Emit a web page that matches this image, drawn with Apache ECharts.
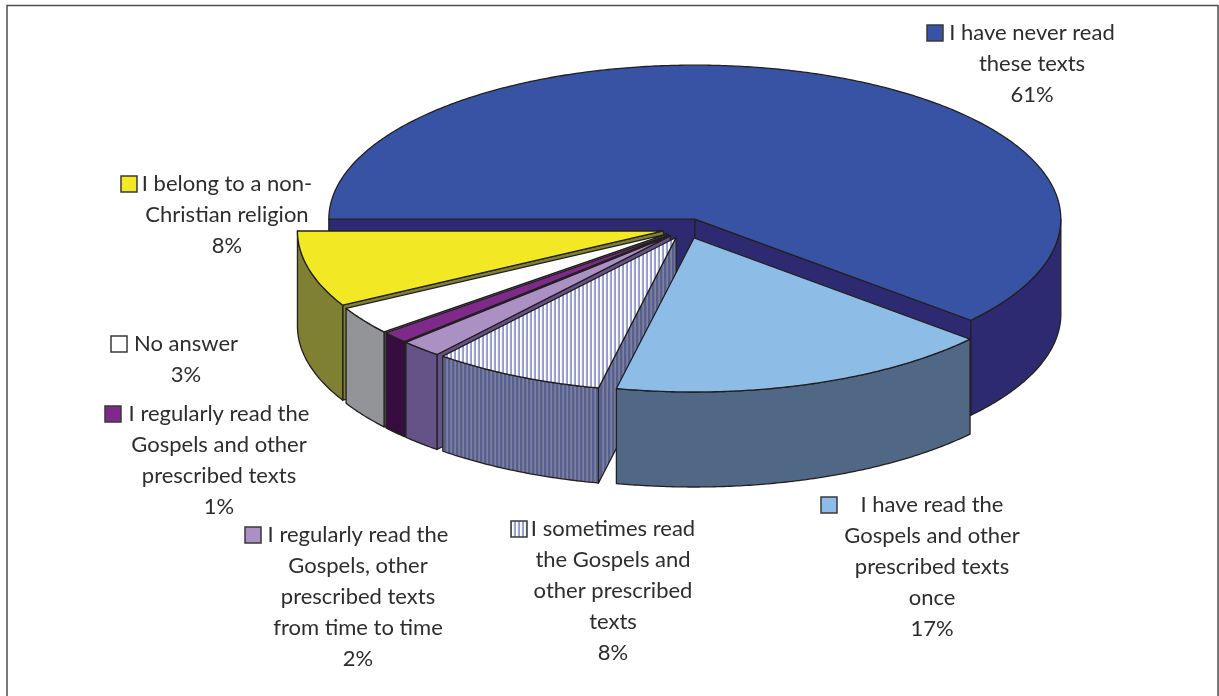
<!DOCTYPE html>
<html><head><meta charset="utf-8">
<style>html,body{margin:0;padding:0;background:#fff}#c{width:1219px;height:696px}</style>
<script src="https://cdn.jsdelivr.net/npm/echarts@6/dist/echarts.min.js"></script>
</head><body><div id="c"></div>
<script>
// Data, clockwise from the left edge of the large slice
const categories = [
  'I have never read these texts',
  'I have read the Gospels and other prescribed texts once',
  'I sometimes read the Gospels and other prescribed texts',
  'I regularly read the Gospels, other prescribed texts from time to time',
  'I regularly read the Gospels and other prescribed texts',
  'No answer',
  'I belong to a non-Christian religion'
];
const shares = [61.4, 17.0, 7.6, 1.85, 1.2, 2.95, 8.0];
const labelLines = [
  ['I have never read', 'these texts'],
  ['I have read the', 'Gospels and other', 'prescribed texts', 'once'],
  ['I sometimes read', 'the Gospels and', 'other prescribed', 'texts'],
  ['I regularly read the', 'Gospels, other', 'prescribed texts', 'from time to time'],
  ['I regularly read the', 'Gospels and other', 'prescribed texts'],
  ['No answer'],
  ['I belong to a non-', 'Christian religion']
];

// Styling and layout
const topColors  = ['#3853a4', '#8dbde6', 'stripeTop', '#ab90c4', '#7f2a8b', '#ffffff', '#f2e924'];
const wallColors = ['#2e2a72', '#506885', 'stripeWall', '#655287', '#370d3f', '#929497', '#808033'];
const paintOrder = [0, 6, 5, 4, 3, 2, 1];
const labelAnchors = [[1032, 33], [932, 505], [613, 529], [358, 535], [219, 414], [186, 344], [227, 184]];
const keyAnchors = [[927, 33], [821, 505], [511, 529], [245, 535], [105, 414], [111, 344], [121, 184]];
const CX = 686.5, CY = 228.5, RX = 366, RY = 154, DEPTH = 95, EXPLODE = 0.065, START_DEG = 180;
const LINE = '#231f20', TEXT = '#2e2c2d', FONT = 'Lato, "Open Sans", sans-serif', FS = 22, LH = 31;

function stripes(cols) {
  const c = document.createElement('canvas');
  c.width = cols.length; c.height = 2;
  const g = c.getContext('2d');
  cols.forEach((col, i) => { g.fillStyle = col; g.fillRect(i, 0, 1, 2); });
  return { image: c, repeat: 'repeat' };
}
const patterns = {
  stripeTop: stripes(['#ffffff', '#f2f3fa', '#a3a7d6', '#9599cc']),
  stripeWall: stripes(['#555f90', '#55608f', '#73769c', '#7f8199'])
};
const paint = c => patterns[c] || c;

const total = shares.reduce((a, b) => a + b, 0);
const spans = [];
shares.reduce((acc, v) => { const d = v / total * 360; spans.push([acc, acc + d]); return acc + d; }, START_DEG);

function rim(ax, ay, deg) {
  const r = deg * Math.PI / 180;
  return [ax + RX * Math.cos(r), ay + RY * Math.sin(r)];
}
function arc(ax, ay, a0, a1, dy) {
  const pts = [], n = Math.max(2, Math.ceil(Math.abs(a1 - a0) * 2));
  for (let i = 0; i <= n; i++) {
    const p = rim(ax, ay, a0 + (a1 - a0) * i / n);
    pts.push([p[0], p[1] + (dy || 0)]);
  }
  return pts;
}
function slice(params, api) {
  const i = params.dataIndex, a0 = spans[i][0], a1 = spans[i][1], mid = (a0 + a1) / 2 * Math.PI / 180;
  const ax = CX + EXPLODE * RX * Math.cos(mid), ay = CY + EXPLODE * RY * Math.sin(mid);
  const z2 = paintOrder.indexOf(i) * 10;
  const base = { lineWidth: 1.3, stroke: LINE, lineJoin: 'round' };
  const kids = [];
  const poly = (pts, fill, z) => kids.push({ type: 'polygon', z2: z, silent: true, shape: { points: pts }, style: Object.assign({ fill: paint(fill) }, base) });
  const face = deg => {
    const p = rim(ax, ay, deg);
    poly([[ax, ay], p, [p[0], p[1] + DEPTH], [ax, ay + DEPTH]], wallColors[i], z2 + 1);
  };
  if (Math.cos(a0 * Math.PI / 180) < 0.001) face(a0);
  if (Math.cos(a1 * Math.PI / 180) > 0.001) face(a1);
  [[0, 180], [360, 540]].forEach(w => {
    const lo = Math.max(a0, w[0]), hi = Math.min(a1, w[1]);
    if (hi > lo) poly(arc(ax, ay, lo, hi, 0).concat(arc(ax, ay, hi, lo, DEPTH)), wallColors[i], z2 + 2);
  });
  poly([[ax, ay]].concat(arc(ax, ay, a0, a1, 0)), topColors[i], z2 + 3);
  return { type: 'group', children: kids };
}
function label(params, api) {
  const i = params.dataIndex, kids = [];
  const txt = labelLines[i].concat([Math.round(api.value(0)) + '%']);
  txt.forEach((t, k) => kids.push({
    type: 'text', silent: true,
    style: { x: labelAnchors[i][0], y: labelAnchors[i][1] + k * LH, text: t, fill: TEXT, font: FS + 'px ' + FONT, align: 'center', verticalAlign: 'middle' }
  }));
  kids.push({
    type: 'rect', silent: true,
    shape: { x: keyAnchors[i][0], y: keyAnchors[i][1] - 8, width: 16, height: 16 },
    style: { fill: paint(topColors[i]), stroke: '#3a3839', lineWidth: 1.5 }
  });
  return { type: 'group', children: kids };
}
const chart = echarts.init(document.getElementById('c'), null, { renderer: 'canvas' });
chart.setOption({
  animation: false,
  backgroundColor: '#ffffff',
  tooltip: { show: false },
  graphic: [
    { type: 'polyline', silent: true, shape: { points: [[7, 696], [7, 5.5], [1218, 5.5], [1218, 696]] }, style: { fill: null, stroke: '#4d4d4d', lineWidth: 1.5 } }
  ],
  series: [
    { type: 'custom', coordinateSystem: 'none', renderItem: slice, data: shares.map((v, i) => ({ name: categories[i], value: [v] })) },
    { type: 'custom', coordinateSystem: 'none', renderItem: label, z: 5, data: shares.map((v, i) => ({ name: categories[i], value: [v] })) }
  ]
});
</script></body></html>
